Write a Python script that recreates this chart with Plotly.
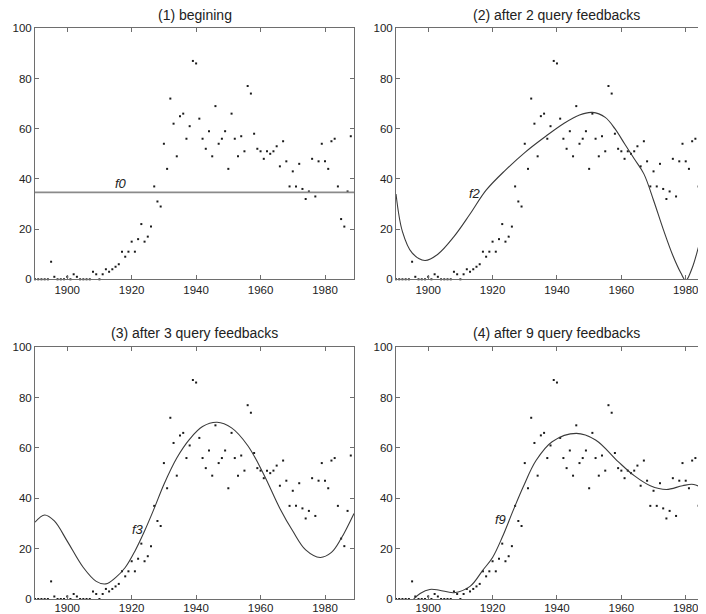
import plotly.graph_objects as go

# ---- data ----
years = list(range(1890, 1989))
values = [0, 0, 0, 0, 0, 7, 1, 0, 0, 0,
          1, 0, 2, 1, 0, 0, 0, 0, 3, 2,
          0, 2, 4, 3, 4, 5, 6, 11, 9, 11,
          15, 11, 16, 22, 15, 17, 21, 37, 31, 29,
          54, 44, 72, 62, 49, 65, 66, 56, 61, 87,
          86, 64, 56, 52, 59, 49, 69, 54, 56, 59,
          44, 66, 56, 49, 57, 51, 77, 74, 58, 52,
          51, 48, 51, 50, 51, 53, 45, 55, 47, 37,
          43, 37, 46, 36, 32, 35, 48, 33, 47, 54,
          47, 44, 55, 56, 37, 24, 21, 35, 57]

titles = ["(1) begining", "(2) after 2 query feedbacks",
          "(3) after 3 query feedbacks", "(4) after 9 query feedbacks"]
curve_names = ["f0", "f2", "f3", "f9"]

f0_x = [1890, 1989]
f0_y = [34.6, 34.6]

f2_x = [1890, 1892, 1895, 1899, 1903, 1908, 1913, 1918, 1924, 1930, 1936, 1942,
        1947, 1951, 1955, 1958, 1961, 1964, 1967, 1970, 1973, 1976, 1978.5, 1980,
        1982, 1984, 1986, 1988]
f2_y = [34, 19, 10.5, 7.5, 10, 17, 26, 35.5, 43.5, 50.5, 56.5, 62,
        65.5, 66.5, 64.5, 60, 54, 48, 42, 31.5, 20, 9.5, 2.5, -0.5,
        4.5, 13, 22, 33]

f3_x = [1890, 1893, 1896, 1900, 1905, 1909, 1912, 1915, 1918, 1921, 1924, 1927,
        1930, 1934, 1938, 1942, 1946.5, 1951, 1956, 1961, 1966, 1970, 1974, 1978.5,
        1982, 1985, 1989]
f3_y = [30.5, 33.4, 31, 23, 12.5, 7, 6, 8.5, 12.5, 19, 27, 36,
        45.5, 56, 63.5, 68.5, 70.2, 68, 61, 49.5, 36, 27, 19.5, 16.5,
        18.5, 24, 34]

f9_x = [1895.5, 1897.5, 1900.5, 1903.5, 1908, 1913, 1917, 1920, 1923, 1926.5,
        1929.5, 1933.5, 1938.5, 1946, 1952, 1959, 1964, 1969, 1974, 1979,
        1982.5, 1987]
f9_y = [0, 2.2, 3.8, 3.5, 2.5, 5, 11.5, 16.5, 24.5, 35.5,
        44.5, 55, 62.5, 65.8, 63.2, 54.6, 49, 45, 43.5, 45,
        45.5, 42.5]

label_x = [1916.6, 1914.4, 1922.0, 1922.6]
label_y = [38.0, 34.3, 27.7, 31.7]

x_ticks = [1900, 1920, 1940, 1960, 1980]
y_ticks = [0, 20, 40, 60, 80, 100]

curves = [(f0_x, f0_y), (f2_x, f2_y), (f3_x, f3_y), (f9_x, f9_y)]

# ---- layout geometry (page body has an 8px margin) ----
OFF = 8
W, H = 706 - OFF, 614 - OFF


def px(v):
    return (v - OFF) / W


def py(v):
    return 1 - (v - OFF) / H


x_dom = [[px(35), px(354)], [px(396), 1.0], [px(35), px(354)], [px(396), 1.0]]
y_dom = [[py(279.3), py(28.3)], [py(279.3), py(28.3)],
         [py(599), py(347.3)], [py(599), py(347.3)]]
x_rng = [[1890, 1989], [1890, 1986.3], [1890, 1989], [1890, 1986.3]]
title_cx = [px(194.5), px(556), px(194.5), px(556)]
title_y = [py(14.8), py(14.8), py(332.5), py(332.5)]

FONT = "Liberation Sans, Arial, Helvetica, sans-serif"
AX = "#6e6e6e"

fig = go.Figure()
layout = dict(width=W, height=H, margin=dict(l=0, r=0, t=0, b=0),
              paper_bgcolor="white", plot_bgcolor="white", showlegend=False,
              font=dict(family=FONT, size=12, color="#222"))
annotations = []

for i in range(4):
    k = "" if i == 0 else str(i + 1)
    xa, ya = "x" + k, "y" + k
    fig.add_trace(go.Scatter(x=years, y=values, mode="markers", xaxis=xa, yaxis=ya,
                             marker=dict(symbol="square", size=2, color="#1a1a1a"),
                             cliponaxis=False, hoverinfo="skip"))
    cx, cy = curves[i]
    if i == 0:
        line = dict(color="#8a8a8a", width=1.8)
    else:
        line = dict(color="#3a3a3a", width=1.1, shape="spline", smoothing=1.0)
    fig.add_trace(go.Scatter(x=cx, y=cy, mode="lines", xaxis=xa, yaxis=ya, line=line))
    right = i in (1, 3)
    bottom = i in (2, 3)
    layout["xaxis" + k] = dict(domain=x_dom[i], range=x_rng[i], anchor=ya,
                               tickvals=x_ticks, ticks="inside", ticklen=4,
                               tickcolor=AX, showline=True, linecolor=AX, linewidth=1,
                               mirror="ticks", showgrid=False, zeroline=False,
                               automargin=False, ticklabelstandoff=-2 if bottom else 0,
                               tickfont=dict(size=11.5, color="#222"))
    layout["yaxis" + k] = dict(domain=y_dom[i], range=[0, 100], anchor=xa,
                               tickvals=y_ticks, ticks="inside", ticklen=4,
                               tickcolor=AX, showline=True, linecolor=AX, linewidth=1,
                               mirror=False if right else "ticks", showgrid=False,
                               zeroline=False, automargin=False,
                               tickfont=dict(size=11.5, color="#222"))
    annotations.append(dict(text=titles[i], xref="paper", yref="paper",
                            x=title_cx[i], y=title_y[i],
                            xanchor="center", yanchor="middle", showarrow=False,
                            font=dict(size=14, color="#222", family=FONT)))
    annotations.append(dict(text="<i>" + curve_names[i] + "</i>", xref=xa, yref=ya,
                            x=label_x[i], y=label_y[i], xanchor="center",
                            yanchor="middle", showarrow=False,
                            font=dict(size=13, color="#222", family=FONT)))

layout["annotations"] = annotations
fig.update_layout(**layout)
fig.write_html("out.html")
